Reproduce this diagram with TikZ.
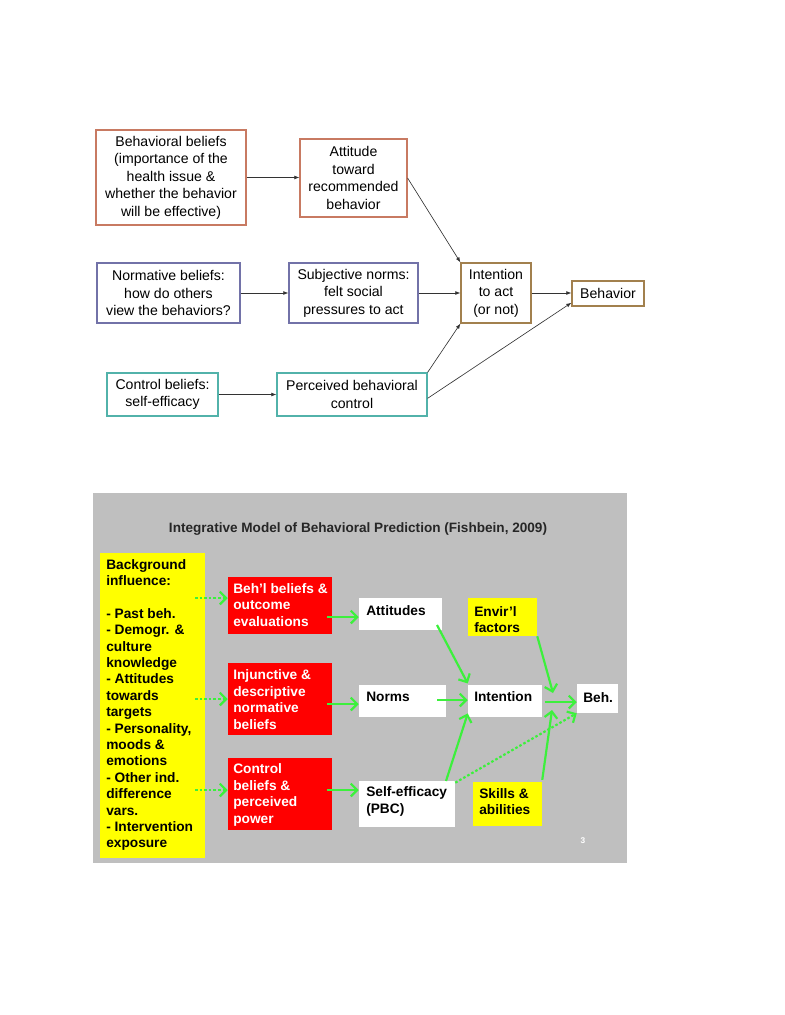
\documentclass[tikz,border=0pt]{standalone}
\usepackage{fontspec}
\setmainfont{Liberation Sans}
\usetikzlibrary{arrows.meta,calc}
\newcommand\pxu{0.7806pt}
\definecolor{cbb}{HTML}{C87A62}
\definecolor{cnb}{HTML}{7272A8}
\definecolor{ccb}{HTML}{52B2AA}
\definecolor{cin}{HTML}{A2804E}
\definecolor{panelgray}{HTML}{BFBFBF}
\definecolor{yel}{HTML}{FFFF00}
\definecolor{red1}{HTML}{FF0000}
\definecolor{grn}{HTML}{3CF03C}
\begin{document}
\begin{tikzpicture}[x=0.7806pt,y=-0.7806pt,
  tbox/.style={draw=#1, line width=0.9pt, fill=white, inner sep=0pt, align=center,
    font=\fontsize{11}{13.7}\selectfont},
  tarr/.style={draw=black!80, line width=0.5pt, -{Latex[length=4pt,width=3pt]}},
  fbox/.style={fill=#1, draw=none, inner sep=0pt},
  btxt/.style={anchor=west, inner sep=0pt, align=left, font=\fontsize{10.7}{12.8}\selectfont\bfseries},
  garr/.style={draw=grn, line width=1.7pt, -{Straight Barb[length=5pt,width=10pt]}},
  gdot/.style={garr, dash pattern=on 2pt off 1.6pt}
]
\useasboundingbox (0,0) rectangle (784,1015);

% ---------- top diagram ----------
\node[tbox=cbb, minimum width=150*\pxu, minimum height=95*\pxu] (bb) at (171,177.5)
  {Behavioral beliefs\\(importance of the\\health issue \&\\whether the behavior\\will be effective)};
\node[tbox=cbb, minimum width=107*\pxu, minimum height=78*\pxu] (att) at (353.5,178)
  {Attitude\\toward\\recommended\\behavior};
\node[tbox=cnb, minimum width=143*\pxu, minimum height=60*\pxu] (nb) at (168.5,293)
  {Normative beliefs:\\how do others\\view the behaviors?};
\node[tbox=cnb, minimum width=129*\pxu, minimum height=60*\pxu] (sn) at (353.5,293)
  {Subjective norms:\\felt social\\pressures to act};
\node[tbox=ccb, minimum width=111*\pxu, minimum height=43*\pxu] (cb) at (162.5,394.5)
  {Control beliefs:\\self-efficacy};
\node[tbox=ccb, minimum width=150*\pxu, minimum height=43*\pxu] (pbc) at (352,394.5)
  {Perceived behavioral\\control};
\node[tbox=cin, minimum width=70*\pxu, minimum height=60*\pxu] (int) at (496,293)
  {Intention\\to act\\(or not)};
\node[tbox=cin, minimum width=72*\pxu, minimum height=25*\pxu] (beh) at (608,293.5)
  {Behavior};

\draw[tarr] (bb.east) -- (bb.east -| att.west);
\draw[tarr] (att.east) -- (int.north west);
\draw[tarr] (nb.east) -- (sn.west);
\draw[tarr] (sn.east) -- (int.west);
\draw[tarr] (cb.east) -- (pbc.west);
\draw[tarr] (pbc.north east) -- (int.south west);
\draw[tarr] ([yshift=-3pt]pbc.east) -- ([yshift=3pt]beh.south west);
\draw[tarr] (int.east) -- (int.east -| beh.west);

% ---------- bottom diagram ----------
\node[fbox=panelgray, minimum width=534*\pxu, minimum height=370*\pxu] (panel) at (360,678) {};
\node[inner sep=0pt, font=\fontsize{10.6}{12}\selectfont\bfseries, text=black!85] (title) at (358,529)
  {Integrative Model of Behavioral Prediction (Fishbein, 2009)};

\node[fbox=yel, minimum width=105*\pxu, minimum height=305*\pxu] (bg) at (152.5,705.5) {};
\node[btxt] (bgt) at (106,705)
  {Background\\influence:\\[12.8pt]- Past beh.\\- Demogr. \&\\culture\\knowledge\\- Attitudes\\towards\\targets\\- Personality,\\moods \&\\emotions\\- Other ind.\\difference\\vars.\\- Intervention\\exposure};

\node[fbox=red1, minimum width=104*\pxu, minimum height=57*\pxu] (r1) at (280,605.5) {};
\node[fbox=red1, minimum width=104*\pxu, minimum height=72*\pxu] (r2) at (280,699) {};
\node[fbox=red1, minimum width=104*\pxu, minimum height=72*\pxu] (r3) at (280,794) {};
\node[btxt, text=white] (r1t) at (233,605) {Beh'l beliefs \&\\outcome\\evaluations};
\node[btxt, text=white] (r2t) at (233,699.5) {Injunctive \&\\descriptive\\normative\\beliefs};
\node[btxt, text=white] (r3t) at (233,795) {Control\\beliefs \&\\perceived\\power};

\node[fbox=white, minimum width=83*\pxu, minimum height=32*\pxu] (wa) at (400.5,614) {};
\node[fbox=white, minimum width=87*\pxu, minimum height=32*\pxu] (wn) at (402.5,701) {};
\node[fbox=white, minimum width=96*\pxu, minimum height=46*\pxu] (ws) at (407,804) {};
\node[fbox=white, minimum width=74*\pxu, minimum height=32*\pxu] (wi) at (505,701) {};
\node[fbox=white, minimum width=41*\pxu, minimum height=29*\pxu] (wb) at (597.5,698.5) {};
\node[fbox=yel, minimum width=69*\pxu, minimum height=38*\pxu] (ye) at (502.5,617) {};
\node[fbox=yel, minimum width=69*\pxu, minimum height=44*\pxu] (ys) at (507.5,804) {};

\node[btxt] (wat) at (366,611) {Attitudes};
\node[btxt] (wnt) at (366,697) {Norms};
\node[btxt] (wst) at (366,801.5) {Self-efficacy\\(PBC)};
\node[btxt] (wit) at (474,697) {Intention};
\node[btxt] (wbt) at (583,698) {Beh.};
\node[btxt] (yet) at (474,619.5) {Envir'l\\factors};
\node[btxt] (yst) at (479,801.5) {Skills \&\\abilities};

\coordinate (d1) at (195,598);
\coordinate (d2) at (195,699);
\coordinate (d3) at (195,790);
\draw[gdot] (d1) -- (d1 -| r1.west);
\draw[gdot] (d2) -- (d2 -| r2.west);
\draw[gdot] (d3) -- (d3 -| r3.west);

\coordinate (s1) at (327,617);
\coordinate (s2) at (327,704);
\coordinate (s3) at (327,790);
\draw[garr] (s1) -- (s1 -| wa.west);
\draw[garr] (s2) -- (s2 -| wn.west);
\draw[garr] (s3) -- (s3 -| ws.west);

\coordinate (a1) at (437,625);
\coordinate (n1) at (437,700);
\coordinate (se1) at (446,781);
\draw[garr] (a1) -- ([yshift=1pt]wi.north west);
\draw[garr] (n1) -- (n1 -| wi.west);
\draw[garr] (se1) -- ([yshift=3pt]wi.south west);
\draw[gdot] ([yshift=-1.5pt]ws.north east) -- (wb.south west);

\coordinate (i1) at (545,702);
\draw[garr] (i1) -- (i1 -| wb.west);
\coordinate (e1) at (553,693);
\coordinate (k1) at (552,710);
\draw[garr] (ye.south east) -- (e1);
\draw[garr] ([yshift=1.5pt]ys.north east) -- (k1);

\node[inner sep=0pt, text=white, font=\fontsize{6.5}{7}\selectfont\bfseries] (pg) at (583,841) {3};
\end{tikzpicture}
\end{document}
